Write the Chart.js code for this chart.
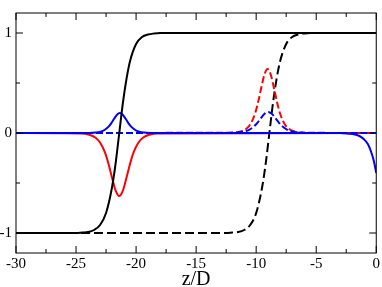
<!DOCTYPE html>
<html>
<head>
<meta charset="utf-8">
<script src="https://cdn.jsdelivr.net/npm/chart.js@4"></script>
<style>
  body { margin: 0; background: #fff; }
</style>
</head>
<body>
<canvas id="myChart" width="382" height="287"></canvas>
<script>
// tick values
const xTicks = [-30, -25, -20, -15, -10, -5, 0];
const xMinor = [-27.5, -22.5, -17.5, -12.5, -7.5, -2.5];
const yTicks = [-1, 0, 1];
const yMinor = [-0.5, 0.5];

// black solid kink
const kinkZ = [-30, -25, -24.5, -24, -23.5, -23, -22.5, -22, -21.7, -21.4, -21.1, -20.8, -20.5, -20, -19.5, -19, -18.5, -18, 0];
const kinkV = [-1, -0.999, -0.995, -0.99, -0.97, -0.92, -0.80, -0.54, -0.30, 0, 0.30, 0.54, 0.72, 0.89, 0.96, 0.985, 0.995, 1, 1];

// black dashed kink
const kinkDZ = [-30, -12.5, -12, -11.5, -11, -10.5, -10, -9.5, -9.2, -8.9, -8.6, -8.3, -8, -7.5, -7, -6.5, -6, -5.5, 0];
const kinkDV = [-1, -0.999, -0.995, -0.99, -0.97, -0.92, -0.80, -0.54, -0.30, 0, 0.30, 0.54, 0.72, 0.89, 0.96, 0.985, 0.995, 1, 1];

// red solid
const redZ = [-30, -24.6, -23.9, -23.4, -23.0, -22.6, -22.3, -22.0, -21.7, -21.4, -21.1, -20.8, -20.5, -20.2, -19.8, -19.4, -18.9, -18.2, 0];
const redV = [0, -0.004, -0.017, -0.045, -0.095, -0.192, -0.307, -0.448, -0.576, -0.63, -0.576, -0.448, -0.307, -0.192, -0.095, -0.045, -0.017, -0.004, 0];

// red dashed
const redDZ = [-30, -11.83, -11.23, -10.79, -10.44, -10.09, -9.83, -9.57, -9.31, -9.05, -8.79, -8.53, -8.27, -8.01, -7.66, -7.31, -6.87, -6.27, 0];
const redDV = [0, 0.004, 0.017, 0.045, 0.096, 0.195, 0.312, 0.455, 0.586, 0.64, 0.586, 0.455, 0.312, 0.195, 0.096, 0.045, 0.017, 0.004, 0];

// blue solid
const blueZ = [-30, -23.91, -23.35, -22.95, -22.63, -22.31, -22.07, -21.83, -21.59, -21.35, -21.11, -20.87, -20.63, -20.39, -20.07, -19.75, -19.35, -18.79,
               -3, -2.3, -1.8, -1.4, -1.0, -0.7, -0.45, -0.2, 0];
const blueV = [0, 0.001, 0.005, 0.014, 0.030, 0.061, 0.097, 0.142, 0.183, 0.2, 0.183, 0.142, 0.097, 0.061, 0.030, 0.014, 0.005, 0.001,
               0, -0.007, -0.015, -0.03, -0.065, -0.11, -0.18, -0.28, -0.40];

// blue dashed
const blueDZ = [-30, -12.2, -11.5, -11.0, -10.6, -10.2, -9.9, -9.6, -9.3, -9.0, -8.7, -8.4, -8.1, -7.8, -7.4, -7.0, -6.5, -5.8, 0];
const blueDV = [0, 0.001, 0.006, 0.015, 0.032, 0.064, 0.102, 0.149, 0.192, 0.21, 0.192, 0.149, 0.102, 0.064, 0.032, 0.015, 0.006, 0.001, 0];

const pts = (zs, vs) => zs.map((z, i) => ({x: z, y: vs[i]}));

function line(data, color, dash, order) {
    return {
        data: data,
        borderColor: color,
        borderWidth: 2,
        borderDash: dash,
        pointRadius: 0,
        fill: false,
        cubicInterpolationMode: 'monotone',
        order: order
    };
}

// inward ticks on all four sides + frame
const boxTicks = {
    id: 'boxTicks',
    afterDatasetsDraw(chart) {
        const {ctx, chartArea: a, scales: {x, y}} = chart;
        ctx.save();
        ctx.strokeStyle = '#000';
        ctx.lineWidth = 1;
        ctx.beginPath();
        const tx = (v, len) => {
            const p = x.getPixelForValue(v);
            ctx.moveTo(p, a.bottom); ctx.lineTo(p, a.bottom - len);
            ctx.moveTo(p, a.top); ctx.lineTo(p, a.top + len);
        };
        const ty = (v, len) => {
            const p = y.getPixelForValue(v);
            ctx.moveTo(a.left, p); ctx.lineTo(a.left + len, p);
            ctx.moveTo(a.right, p); ctx.lineTo(a.right - len, p);
        };
        xTicks.forEach(v => tx(v, 7));
        xMinor.forEach(v => tx(v, 4));
        yTicks.forEach(v => ty(v, 7));
        yMinor.forEach(v => ty(v, 4));
        ctx.stroke();
        ctx.strokeRect(a.left, a.top, a.right - a.left, a.bottom - a.top);
        ctx.restore();
    }
};

const font = {family: 'Liberation Serif', size: 15};

const myChart = new Chart(document.getElementById('myChart'), {
    type: 'line',
    data: {
        datasets: [
            line(pts(blueZ, blueV), '#0000ff', [], 1),
            line(pts(blueDZ, blueDV), '#0000ff', [7, 3], 2),
            line(pts(redDZ, redDV), '#ff0000', [7, 3], 3),
            line(pts(redZ, redV), '#ff0000', [], 4),
            line(pts(kinkZ, kinkV), '#000000', [], 0),
            line(pts(kinkDZ, kinkDV), '#000000', [9, 4], 5)
        ]
    },
    options: {
        responsive: false,
        animation: false,
        devicePixelRatio: 1,
        layout: {padding: {top: 1, right: 4, left: 0, bottom: 0}},
        plugins: {legend: {display: false}, tooltip: {enabled: false}},
        scales: {
            x: {
                type: 'linear',
                min: -30,
                max: 0,
                afterBuildTicks: s => { s.ticks = xTicks.map(v => ({value: v})); },
                afterFit: s => { s.height = 34; },
                grid: {display: false, drawTicks: false},
                border: {display: false},
                ticks: {font: font, color: '#000', padding: 2, maxRotation: 0, callback: v => String(v)},
                title: {display: true, text: 'z/D', color: '#000', font: {family: 'Liberation Serif', size: 20, lineHeight: 1}, padding: {top: 0, bottom: -3}}
            },
            y: {
                min: -1.2,
                max: 1.2,
                afterBuildTicks: s => { s.ticks = yTicks.map(v => ({value: v})); },
                afterFit: s => { s.width = 16; },
                grid: {display: false, drawTicks: false},
                border: {display: false},
                ticks: {font: font, color: '#000', padding: 4, callback: v => String(v)}
            }
        }
    },
    plugins: [boxTicks]
});
</script>
</body>
</html>
